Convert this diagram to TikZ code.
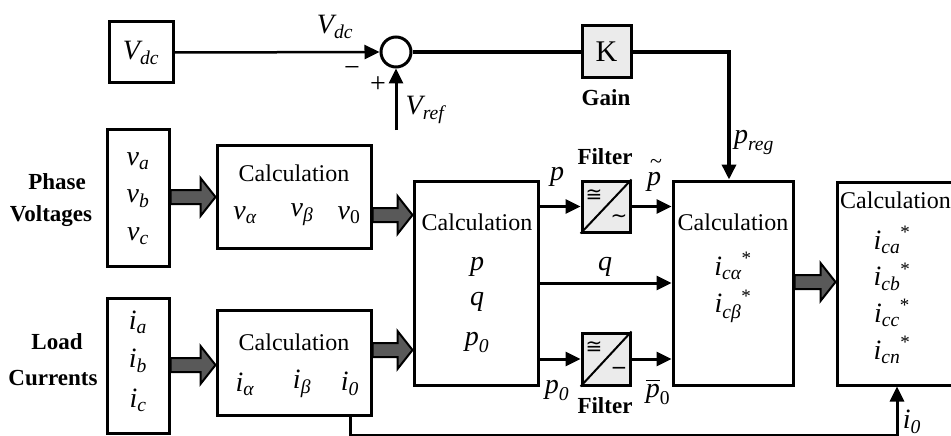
\documentclass[tikz,border=0pt]{standalone}
\usepackage{amsmath}
\usepackage{fontspec}
\setmainfont{Liberation Serif}
\newfontfamily\dejavu{DejaVu Sans}
\usetikzlibrary{arrows.meta,calc}
\newcommand\mi[1]{\textit{#1}}
\newcommand\sym[1]{{\dejavu\fontsize{20}{21}\selectfont #1}}
\newcommand\st{^{\mbox{\fontsize{19}{20}\selectfont *}}}
% block arrow from node #1 to node #2 at height #3
\newcommand\barrow[3]{%
 \draw[barr] let \p1=(#1.east), \p2=(#2.west), \p3=(0,#3) in
 (\x1,\y3+7pt) -- (\x2-15pt,\y3+7pt) -- (\x2-15pt,\y3+19pt) -- (\x2,\y3)
 -- (\x2-15pt,\y3-19pt) -- (\x2-15pt,\y3-7pt) -- (\x1,\y3-7pt) -- cycle;}
\begin{document}
\begin{tikzpicture}[x=1pt,y=-1pt,
 box/.style={draw,line width=3pt,rectangle,inner sep=0pt,fill=white},
 gbox/.style={box,fill=black!8},
 txt/.style={inner sep=0pt,font=\fontsize{24}{28}\selectfont},
 mth/.style={inner sep=0pt,font=\fontsize{28}{32}\selectfont},
 lab/.style={inner sep=0pt,font=\fontsize{23}{26}\selectfont\bfseries},
 con/.style={line width=3pt,-{Triangle[length=15pt,width=14pt]}},
 ln/.style={line width=3pt},
 barr/.style={draw=black,line width=2pt,fill=black!65,line join=miter}]
\useasboundingbox (0,0) rectangle (951,436);
\clip (0,0) rectangle (951,436);

% boxes
\node[box,mth,minimum width=64pt,minimum height=61pt] (vdc) at (141,52.5) {$\mi{V}_{\mi{dc}}$};
\node[gbox,minimum width=49pt,minimum height=52pt,font=\fontsize{30}{32}\selectfont] (k) at (606.5,52) {K};
\node[draw,circle,line width=3pt,minimum size=30pt,inner sep=0pt] (sum) at (396,52) {};
\node[box,minimum width=62pt,minimum height=137pt] (vin) at (138,197.5) {};
\node[box,minimum width=62pt,minimum height=135pt] (iin) at (138,365.5) {};
\node[box,minimum width=154pt,minimum height=103pt] (c1) at (294,196.5) {};
\node[box,minimum width=154pt,minimum height=105pt] (c2) at (294,362.5) {};
\node[box,minimum width=124pt,minimum height=204pt] (c3) at (476,283) {};
\node[gbox,minimum width=48pt,minimum height=51pt] (f1) at (606,206.5) {};
\node[gbox,minimum width=48pt,minimum height=52pt] (f2) at (606,359) {};
\node[box,minimum width=120pt,minimum height=204pt] (c4) at (733,283) {};
\node[box,minimum width=140pt,minimum height=203pt] (c5) at (907,283.5) {};

% filter internals
\draw[line width=2pt] (f1.south west) -- (f1.north east);
\draw[line width=2pt] (f2.south west) -- (f2.north east);
\node[inner sep=0pt] (f1a) at (594,196) {\sym{≅}};
\node[inner sep=0pt] (f1b) at (619,219) {\sym{∼}};
\node[inner sep=0pt] (f2a) at (594,348) {\sym{≅}};
\node[inner sep=0pt] (f2b) at (619,371) {\sym{−}};

% texts inside boxes
\node[mth] (va) at (138,161) {$\mi{v}_{\mi{a}}$};
\node[mth] (vb) at (138,199) {$\mi{v}_{\mi{b}}$};
\node[mth] (vc) at (138,236) {$\mi{v}_{\mi{c}}$};
\node[mth] (ia) at (138,322) {$\mi{i}_{\mi{a}}$};
\node[mth] (ib) at (138,361) {$\mi{i}_{\mi{b}}$};
\node[mth] (ic) at (138,400) {$\mi{i}_{\mi{c}}$};

\node[txt] (t1) at (294,173) {Calculation};
\node[mth] (val) at (245,215) {$\mi{v}_{\mi{α}}$};
\node[mth] (vbe) at (302,215) {$\mi{v}_{\mi{β}}$};
\node[mth] (vz) at (349,215) {$\mi{v}_{\textup{0}}$};

\node[txt] (t2) at (294,342) {Calculation};
\node[mth] (ial) at (245,384) {$\mi{i}_{\mi{α}}$};
\node[mth] (ibe) at (302,384) {$\mi{i}_{\mi{β}}$};
\node[mth] (iz) at (350,384) {$\mi{i}_{\mi{0}}$};

\node[txt] (t3) at (477,222) {Calculation};
\node[mth] (pp) at (477,267) {$\mi{p}$};
\node[mth] (qq) at (477,302) {$\mi{q}$};
\node[mth] (pz) at (477,342) {$\mi{p}_{\mi{0}}$};

\node[txt] (t4) at (733,222) {Calculation};
\node[mth] (ica) at (733,266) {${\mi{i}_{\mi{cα}}}\st$};
\node[mth] (icb) at (733,306) {${\mi{i}_{\mi{cβ}}}\st$};

\node[txt,anchor=west] (t5) at (840,200) {Calculation};
\node[mth] (i1) at (892,240) {${\mi{i}_{\mi{ca}}}\st$};
\node[mth] (i2) at (892,277) {${\mi{i}_{\mi{cb}}}\st$};
\node[mth] (i3) at (892,313) {${\mi{i}_{\mi{cc}}}\st$};
\node[mth] (i4) at (892,350) {${\mi{i}_{\mi{cn}}}\st$};

% outside labels
\node[lab] (ph) at (57,182) {Phase};
\node[lab] (vo) at (51,216) {Voltages};
\node[lab] (lo) at (57,342) {Load};
\node[lab] (cu) at (53,378) {Currents};
\node[lab] (gain) at (606,98) {Gain};
\node[lab] (fl1) at (605,157) {Filter};
\node[lab] (fl2) at (605,406) {Filter};
\node[mth] (lvdc) at (335,27) {$\mi{V}_{\mi{dc}}$};
\node[inner sep=0pt,font=\fontsize{28}{30}\selectfont] (mi) at (352,72) {−};
\node[inner sep=0pt,font=\fontsize{28}{30}\selectfont] (pl) at (378,85) {+};
\node[mth] (lvr) at (425,110) {$\mi{V}_{\mi{ref}}$};
\node[mth] (lpr) at (754,142) {$\mi{p}_{\mi{reg}}$};
\node[mth] (lp) at (557,177) {$\mi{p}$};
\node[mth] (lpt) at (654,182) {$\mi{p}$};
\node[inner sep=0pt,font=\fontsize{22}{24}\selectfont] (lptt) at (656,164) {\textasciitilde};
\node[mth] (lq) at (605,267) {$\mi{q}$};
\node[mth] (lp0) at (557,390) {$\mi{p}_{\mi{0}}$};
\node[mth] (lpb) at (658,392) {$\overline{\mi{p}}_{\textup{0}}$};
\node[mth] (li0) at (912,422) {$\mi{i}_{\mi{0}}$};

% connectors
\coordinate (vr) at (396,130);
\draw[con,line width=2.5pt] (vdc.east) -- (sum.west);
\draw[con] (vr) -- (sum.south);
\draw[ln,line width=3.5pt] (sum.east) -- (k.west);
\draw[con,line width=3.5pt] (k.east) -| ([xshift=-4pt]c4.north);
\draw[con] (c3.east |- f1.west) -- (f1.west);
\draw[con] (f1.east) -- (c4.west |- f1.east);
\draw[con] (c3.east) -- (c4.west);
\draw[con] (c3.east |- f2.west) -- (f2.west);
\draw[con] (f2.east) -- (c4.west |- f2.east);
\draw[con] ([xshift=56pt]c2.south) -- ++(0,19) -| ([xshift=-10pt]c5.south);

% block arrows
\barrow{vin}{c1}{197}
\barrow{iin}{c2}{365}
\barrow{c1}{c3}{215}
\barrow{c2}{c3}{350}
\barrow{c4}{c5}{282}
\end{tikzpicture}
\end{document}
